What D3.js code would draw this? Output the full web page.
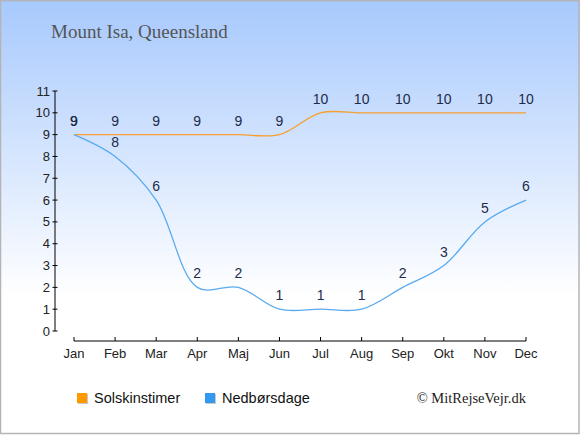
<!DOCTYPE html>
<html>
<head>
<meta charset="utf-8">
<script src="https://cdn.jsdelivr.net/npm/d3@7"></script>
<style>
  html, body { margin: 0; padding: 0; }
  body { width: 580px; height: 435px; overflow: hidden; }
</style>
</head>
<body>
<div id="chart"></div>
<script>
'use strict';

var months = ['Jan', 'Feb', 'Mar', 'Apr', 'Maj', 'Jun', 'Jul', 'Aug', 'Sep', 'Okt', 'Nov', 'Dec']
var sunHours = [9, 9, 9, 9, 9, 9, 10, 10, 10, 10, 10, 10]
var rainDays = [9, 8, 6, 2, 2, 1, 1, 1, 2, 3, 5, 6]
var yTicks = [0, 1, 2, 3, 4, 5, 6, 7, 8, 9, 10, 11]
var seriesNames = ['Solskinstimer', 'Nedbørsdage']

var W = 580, H = 435

var colorize = function(type){
  if (type == 'sun') return '#f7a030'
  if (type == 'rain') return '#5aaaf0'
  return '#ff699b'
}
var legendColor = function(type){
  if (type == 'sun') return '#ff9900'
  return '#3399ee'
}

var svg = d3.select('#chart').append('svg')
  .attr('width', W)
  .attr('height', H)

// Background gradient
var grad = svg.append('defs').append('linearGradient')
  .attr('id', 'bg')
  .attr('x1', 0).attr('y1', 0).attr('x2', 0).attr('y2', 1)
grad.append('stop').attr('offset', '0%').attr('stop-color', '#a7c9fd')
grad.append('stop').attr('offset', '68%').attr('stop-color', '#ffffff')
grad.append('stop').attr('offset', '100%').attr('stop-color', '#ffffff')

svg.append('rect')
  .attr('x', 0).attr('y', 0)
  .attr('width', W).attr('height', H)
  .attr('fill', 'url(#bg)')

svg.append('rect')
  .attr('x', 0.5).attr('y', 0.5)
  .attr('width', W - 1.5).attr('height', H - 2)
  .attr('fill', 'none')
  .attr('stroke', '#b4b4b4')
  .attr('stroke-width', 1.5)

// Title
svg.append('text')
  .attr('x', 51)
  .attr('y', 38)
  .style('font', '19px "Liberation Serif", "DejaVu Serif", serif')
  .style('fill', '#555')
  .text('Mount Isa, Queensland')

// Scales
var x = d3.scalePoint()
  .domain(months)
  .range([74, 526])

var y = d3.scaleLinear()
  .domain([0, 11])
  .range([331, 91])

// Y axis
var yAxis = svg.append('g')
  .attr('transform', 'translate(55,0)')
yAxis.append('line')
  .attr('y1', y(0)).attr('y2', y(11))
  .attr('stroke', '#000')
yAxis.selectAll('.tick')
  .data(yTicks)
  .enter().append('line')
    .attr('x1', -2.5).attr('x2', 2.5)
    .attr('y1', function(d) { return y(d) })
    .attr('y2', function(d) { return y(d) })
    .attr('stroke', '#000')
yAxis.selectAll('.label')
  .data(yTicks)
  .enter().append('text')
    .attr('x', -5)
    .attr('y', function(d) { return y(d) })
    .attr('dy', '0.35em')
    .style('text-anchor', 'end')
    .style('font', '13px "Liberation Sans", Arial, sans-serif')
    .style('fill', '#222')
    .text(function(d) { return d })

// X axis
var xAxis = svg.append('g')
  .attr('transform', 'translate(0,341)')
xAxis.append('line')
  .attr('x1', x(months[0])).attr('x2', x(months[months.length - 1]))
  .attr('stroke', '#000')
xAxis.selectAll('.tick')
  .data(months)
  .enter().append('line')
    .attr('x1', function(d) { return x(d) })
    .attr('x2', function(d) { return x(d) })
    .attr('y1', -4).attr('y2', 0)
    .attr('stroke', '#000')
xAxis.selectAll('.label')
  .data(months)
  .enter().append('text')
    .attr('x', function(d) { return x(d) })
    .attr('y', 17)
    .style('text-anchor', 'middle')
    .style('font', '13px "Liberation Sans", Arial, sans-serif')
    .style('fill', '#222')
    .text(function(d) { return d })

// Curves
var line = d3.line()
  .curve(d3.curveCatmullRom.alpha(0.5))
  .x(function(d) { return x(d.month) })
  .y(function(d) { return y(d.value) })

var curves = [
  {type: 'sun', values: sunHours},
  {type: 'rain', values: rainDays}
].map(function(s){
  return {
    type: s.type,
    values: s.values.map(function(v, i){ return {month: months[i], value: v} })
  }
})

var curve = svg.selectAll('.curve')
  .data(curves)
  .enter().append('g')
    .attr('class', 'curve')

curve.append('path')
  .attr('d', function(d) { return line(d.values) })
  .style('stroke', function(d) { return colorize(d.type) })
  .style('stroke-width', '1.3px')
  .style('fill', 'none')

curve.selectAll('text')
  .data(function(d) { return d.values })
  .enter().append('text')
    .attr('x', function(d) { return x(d.month) })
    .attr('y', function(d) { return y(d.value) - 9 })
    .style('text-anchor', 'middle')
    .style('font', '14px "Liberation Sans", Arial, sans-serif')
    .style('fill', '#1c2b4a')
    .text(function(d) { return d.value })

// Legend
var legend = svg.selectAll('.legend')
  .data([{type: 'sun', x: 77}, {type: 'rain', x: 205}])
  .enter().append('g')
    .attr('class', 'legend')
    .attr('transform', function(d) { return 'translate(' + d.x + ',393)' })

legend.append('rect')
  .attr('x', 1).attr('y', 1)
  .attr('width', 10).attr('height', 10)
  .attr('fill', '#c8c8c8')
legend.append('rect')
  .attr('width', 10).attr('height', 10)
  .attr('fill', function(d) { return legendColor(d.type) })
legend.append('text')
  .attr('x', 17)
  .attr('y', 10)
  .style('font', '14.5px "Liberation Sans", Arial, sans-serif')
  .style('fill', '#111')
  .text(function(d, i) { return seriesNames[i] })

svg.append('text')
  .attr('x', 526)
  .attr('y', 403)
  .style('text-anchor', 'end')
  .style('font', '14.5px "Liberation Serif", "DejaVu Serif", serif')
  .style('fill', '#222')
  .text('© MitRejseVejr.dk')
</script>
</body>
</html>
